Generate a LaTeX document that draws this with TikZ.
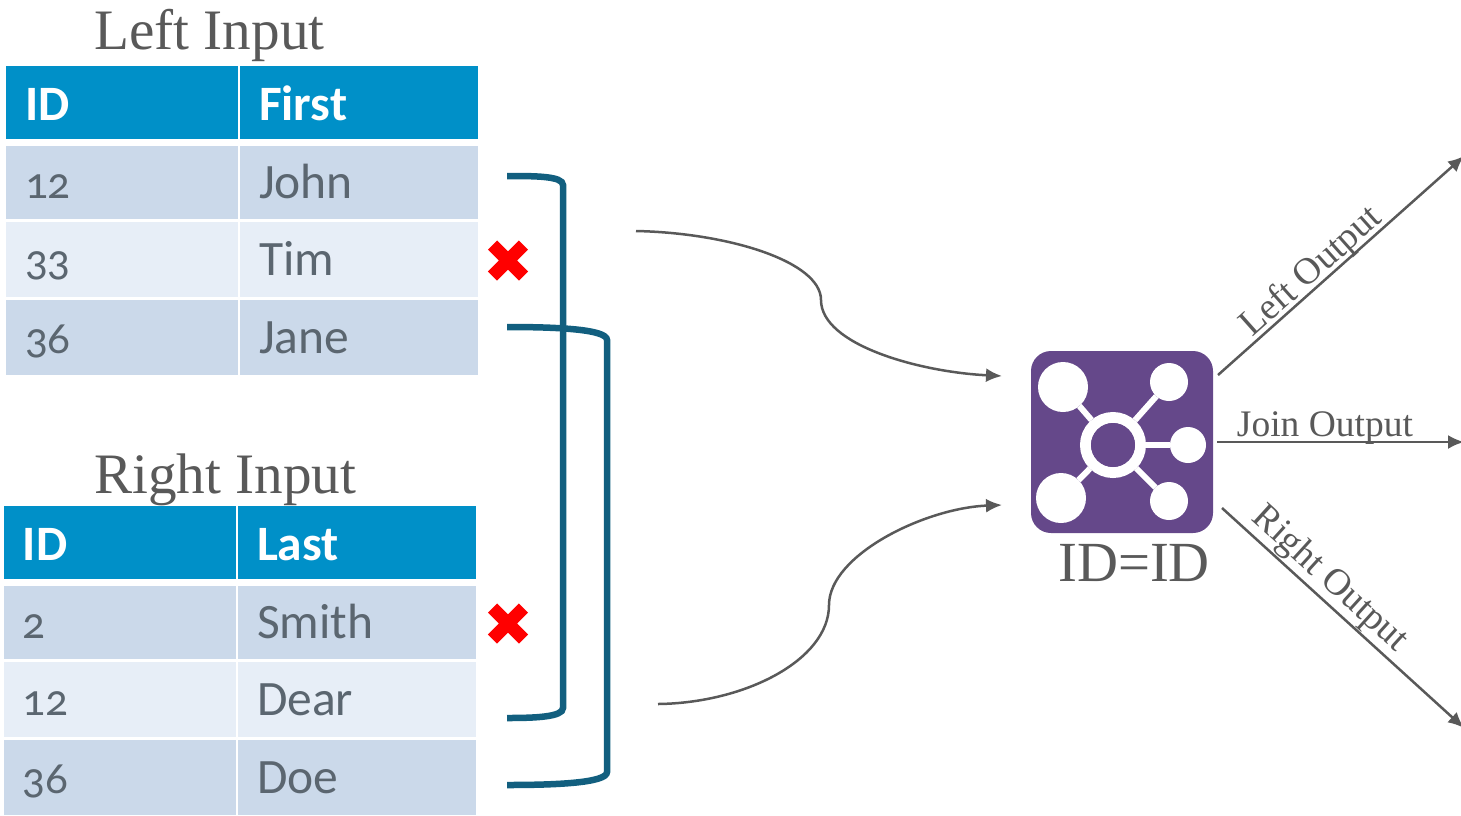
\documentclass[tikz,border=0pt]{standalone}
\usepackage{fontspec}
\setmainfont{Liberation Serif}
\setsansfont[Numbers=OldStyle]{Carlito}
\usetikzlibrary{arrows.meta,shapes.misc}
\definecolor{headblue}{HTML}{0090C8}
\definecolor{rowdark}{HTML}{CBD9EA}
\definecolor{rowlight}{HTML}{E7EEF7}
\definecolor{celltext}{HTML}{5B6670}
\definecolor{bracketblue}{HTML}{125F7F}
\definecolor{arrowgray}{HTML}{595959}
\definecolor{iconpurple}{HTML}{65488A}
\tikzstyle{cell}=[rectangle,inner ysep=0pt,inner xsep=19pt,outer sep=0pt,
    align=left,text depth=0pt,minimum height=73pt,font=\sffamily\fontsize{49.5}{50}\selectfont]
\tikzstyle{id column}=[cell,text width=194pt,minimum width=232pt]
\tikzstyle{number}=[id column,font=\sffamily\fontsize{45}{46}\selectfont]
\tikzstyle{value column}=[cell,text width=200pt,minimum width=238pt]
\tikzstyle{head row}=[fill=headblue,text=white,text height=36pt,
    font=\sffamily\bfseries\fontsize{49.5}{50}\selectfont]
\tikzstyle{dark row}=[fill=rowdark,text=celltext,text height=31pt]
\tikzstyle{light row}=[fill=rowlight,text=celltext,text height=31pt,minimum height=75pt]
\tikzstyle{title}=[text=arrowgray,inner sep=0pt,anchor=base west,font=\fontsize{57.2}{57}\selectfont]
\tikzstyle{outlabel}=[text=arrowgray,inner sep=0pt,font=\fontsize{37.5}{38}\selectfont]
\tikzstyle{bracket}=[draw=bracketblue,line width=6.5pt]
\tikzstyle{transition}=[draw=arrowgray,line width=2.5pt,-{Latex[length=16pt,width=14pt]}]
\tikzstyle{reject}=[cross out,draw=red,line width=13pt,minimum size=18pt,inner sep=0pt]
\tikzstyle{icon blob}=[circle,fill=white,inner sep=0pt,outer sep=0pt]
\tikzstyle{spoke}=[draw=white,line width=6pt]
\newcommand{\cell}[4][id column]{
    \node[#1] at (#2) (#3) {#4};
}
\begin{document}
\begin{tikzpicture}[x=1pt,y=-1pt]
    \useasboundingbox (0,0) rectangle (1461,815);
    % left table
    \node[title] at (94,49.5) (lefttitle) {Left Input};
    \cell[id column,head row]{122,102}{lefthead}{ID}
    \cell[value column,head row]{359,102}{firsthead}{First}
    \cell[number,dark row]{122,182.5}{leftA}{12}
    \cell[value column,dark row]{359,182.5}{firstA}{John}
    \cell[number,light row]{122,259.5}{leftB}{33}
    \cell[value column,light row]{359,259.5}{firstB}{Tim}
    \cell[number,dark row,minimum height=75pt]{122,337.5}{leftC}{36}
    \cell[value column,dark row,minimum height=75pt]{359,337.5}{firstC}{Jane}
    % right table
    \node[title] at (94,493) (righttitle) {Right Input};
    \cell[id column,head row]{120,542}{righthead}{ID}
    \cell[value column,head row]{357,542}{lasthead}{Last}
    \cell[number,dark row]{120,622.5}{rightA}{2}
    \cell[value column,dark row]{357,622.5}{lastA}{Smith}
    \cell[number,light row]{120,699.5}{rightB}{12}
    \cell[value column,light row]{357,699.5}{lastB}{Dear}
    \cell[number,dark row,minimum height=75pt]{120,777.5}{rightC}{36}
    \cell[value column,dark row,minimum height=75pt]{357,777.5}{lastC}{Doe}
    %
    \node[reject] at (508,260.5) (rejectleft) {};
    \node[reject] at (508,623.5) (rejectright) {};
    % key brackets
    \coordinate (keyA) at (507,176);
    \coordinate (keyB) at (507,718);
    \coordinate (keyC) at (507,327);
    \coordinate (keyD) at (507,785);
    \draw[bracket] (keyA) .. controls (535,176) and (563,176) .. (563,185)
        -- (563,708) .. controls (563,717) and (535,718) .. (keyB);
    \draw[bracket] (keyC) .. controls (555,327) and (607,329) .. (607,340)
        -- (607,772) .. controls (607,783) and (555,785) .. (keyD);
    % join icon
    \node[fill=iconpurple,rounded corners=20pt,minimum size=182pt,inner sep=0pt] at (1122,442) (joinicon) {};
    \node[icon blob,minimum size=50pt] at (1063,387) (blobA) {};
    \node[icon blob,minimum size=38pt] at (1169,382) (blobB) {};
    \node[icon blob,minimum size=36pt] at (1188,445) (blobC) {};
    \node[icon blob,minimum size=38pt] at (1169,501) (blobD) {};
    \node[icon blob,minimum size=50pt] at (1061,498) (blobE) {};
    \node[circle,draw=white,line width=11pt,inner sep=0pt,minimum size=55pt] at (1113,445) (hub) {};
    \draw[spoke] (hub) -- (blobA);
    \draw[spoke] (hub) -- (blobB);
    \draw[spoke] (hub) -- (blobC);
    \draw[spoke] (hub) -- (blobD);
    \draw[spoke] (hub) -- (blobE);
    \node[circle,fill=iconpurple,inner sep=0pt,minimum size=44pt] at (hub) (hubcore) {};
    \node[title,font=\fontsize{56.7}{57}\selectfont] at (1058,581) (joinkey) {ID=ID};
    % inputs
    \coordinate (inA) at (636,231);
    \coordinate (inB) at (1002,376);
    \coordinate (inC) at (658,704);
    \coordinate (inD) at (1002,505);
    \draw[transition] (inA) .. controls (730,233) and (821,262) .. (821,300)
        .. controls (821,345) and (920,372) .. (inB);
    \draw[transition] (inC) .. controls (745,703) and (829,660) .. (829,605)
        .. controls (829,555) and (925,508) .. (inD);
    % outputs
    \coordinate (outA) at (1218,375);
    \coordinate (outAend) at (1464,156);
    \coordinate (outB) at (1217,442);
    \coordinate (outBend) at (1464,442);
    \coordinate (outC) at (1222,508);
    \coordinate (outCend) at (1464,728);
    \draw[transition] (outA) -- node[outlabel,sloped,above=-4pt,pos=0.42] (leftout) {Left Output} (outAend);
    \draw[transition] (outB) -- node[outlabel,above=-4pt,pos=0.437] (joinout) {Join Output} (outBend);
    \draw[transition] (outC) -- node[outlabel,sloped,above=1pt,pos=0.39] (rightout) {Right Output} (outCend);
\end{tikzpicture}
\end{document}
